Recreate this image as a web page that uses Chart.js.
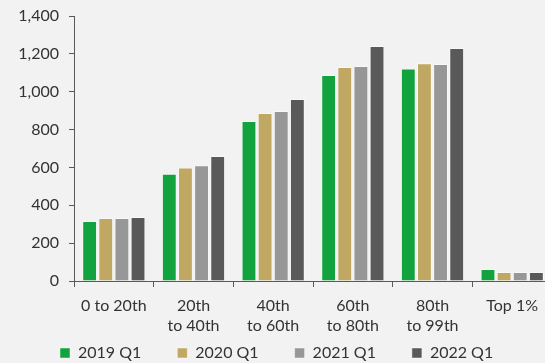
<!DOCTYPE html>
<html>
<head>
<meta charset="utf-8">
<script src="https://cdn.jsdelivr.net/npm/chart.js@4"></script>
<style>
  html, body { margin: 0; padding: 0; background: #f2f2f2; overflow: hidden; }
  #wrap { width: 552px; height: 363px; }
</style>
</head>
<body>
<div id="wrap"><canvas id="income-chart"></canvas></div>
<script>
// Chart data
const categories = [['0 to 20th'], ['20th', 'to 40th'], ['40th', 'to 60th'], ['60th', 'to 80th'], ['80th', 'to 99th'], ['Top 1%']];
const series2019 = [317, 567, 845, 1088, 1123, 63];
const series2020 = [333, 599, 888, 1130, 1151, 48];
const series2021 = [333, 611, 898, 1136, 1146, 48];
const series2022 = [338, 660, 961, 1241, 1231, 47];
const yTicks = [0, 200, 400, 600, 800, 1000, 1200, 1400];

const axisColor = '#595959';
const textColor = '#333333';

function makeSet(label, data, color) {
    return {
        label: label,
        data: data,
        backgroundColor: color,
        borderColor: 'rgba(255,255,255,0.45)',
        borderWidth: 1,
        categoryPercentage: 0.81,
        barPercentage: 0.92
    };
}

// nudge the legend row to the right so it starts under the y labels
const legendShift = {
    id: 'legendShift',
    afterLayout: function(chart) {
        if (chart.legend) chart.legend.left += 33;
    }
};

Chart.defaults.font.family = 'Lato, "Open Sans", sans-serif';
Chart.defaults.font.size = 16;
Chart.defaults.color = textColor;

new Chart(document.getElementById('income-chart'), {
    type: 'bar',
    data: {
        labels: categories,
        datasets: [
            makeSet('2019 Q1', series2019, '#12a33e'),
            makeSet('2020 Q1', series2020, '#c0a862'),
            makeSet('2021 Q1', series2021, '#979797'),
            makeSet('2022 Q1', series2022, '#595959')
        ]
    },
    plugins: [legendShift],
    options: {
        responsive: true,
        maintainAspectRatio: false,
        animation: false,
        layout: { padding: { left: 15, top: 16, right: 0, bottom: -8 } },
        scales: {
            x: {
                afterFit: function(scale) { scale.height = 52; },
                grid: { display: true, offset: true, drawOnChartArea: false, color: axisColor, tickLength: 6 },
                border: { display: true, color: axisColor, width: 1 },
                ticks: {
                    color: textColor,
                    padding: 9,
                    maxRotation: 0,
                    autoSkip: false,
                    font: { size: 16, lineHeight: 1.25 }
                }
            },
            y: {
                min: 0,
                max: 1400,
                afterFit: function(scale) {
                    scale.width = 59;
                    scale.paddingTop = 0;
                    scale.paddingBottom = 0;
                },
                afterBuildTicks: function(scale) {
                    scale.ticks = yTicks.map(function(v) { return { value: v }; });
                },
                grid: { display: true, drawOnChartArea: false, color: axisColor, tickLength: 5 },
                border: { display: true, color: axisColor, width: 1 },
                ticks: {
                    color: textColor,
                    padding: 10,
                    callback: function(value) { return value.toLocaleString('en-US'); }
                }
            }
        },
        plugins: {
            legend: {
                position: 'bottom',
                align: 'start',
                labels: {
                    boxWidth: 10,
                    boxHeight: 10,
                    padding: 12,
                    color: textColor,
                    font: { size: 16 },
                    // widen the first three entries so the keys spread across the width
                    generateLabels: function(chart) {
                        const items = Chart.defaults.plugins.legend.labels.generateLabels(chart);
                        items.forEach(function(item, i) {
                            if (i < items.length - 1) item.text = item.text + '\u2003\u2003';
                        });
                        return items;
                    }
                }
            },
            tooltip: { enabled: false }
        }
    }
});
</script>
</body>
</html>
